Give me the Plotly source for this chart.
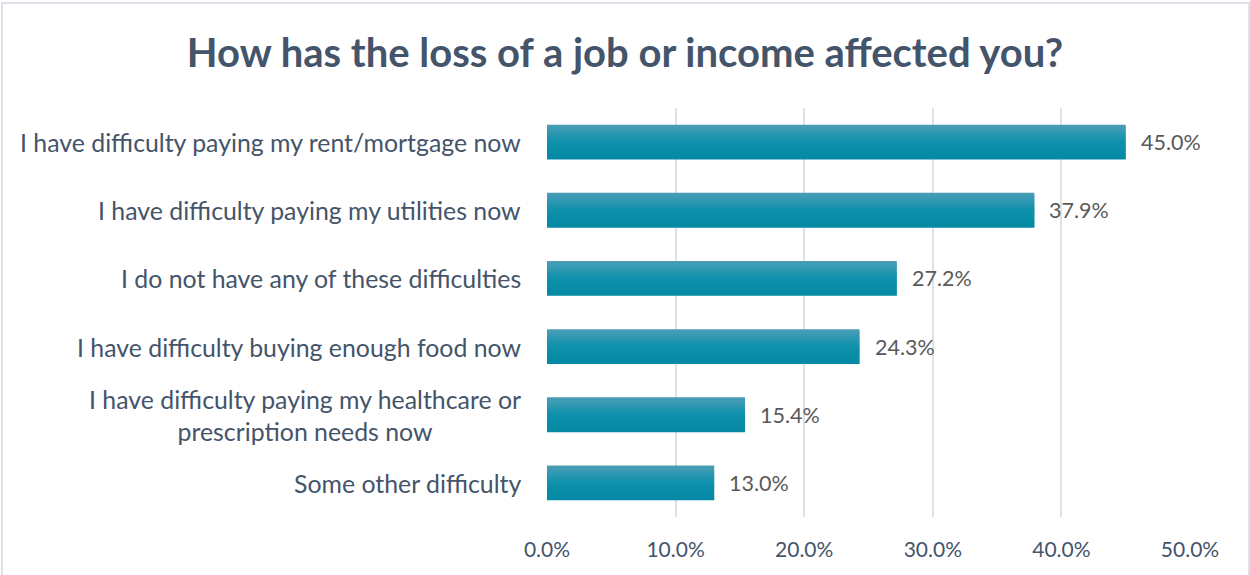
import plotly.graph_objects as go

# Survey responses: share of respondents reporting each difficulty
categories = [
    "I have difficulty paying my rent/mortgage now",
    "I have difficulty paying my utilities now",
    "I do not have any of these difficulties",
    "I have difficulty buying enough food now",
    "I have difficulty paying my healthcare or<br>prescription needs now",
    "Some other difficulty",
]
shares = [0.450, 0.379, 0.272, 0.243, 0.154, 0.130]
tick_values = [0.0, 0.1, 0.2, 0.3, 0.4, 0.5]
tick_labels = ["0.0%", "10.0%", "20.0%", "30.0%", "40.0%", "50.0%"]

W, H = 1250, 575
L, R, T, B = 547, 60, 108, 58
pw, ph = W - L - R, H - T - B

FONT = "Lato"
SLATE = "#44546A"
GREY = "#595959"

BAR_W = 0.51
N_BANDS = 16
STOPS = [(0.0, (0x4C, 0x9E, 0xB6)), (0.5, (0x0D, 0x91, 0xAC)), (1.0, (0x06, 0x88, 0xA3))]


def shade(t):
    """Vertical gradient colour at fraction t (0 = top edge of bar)."""
    for (t0, c0), (t1, c1) in zip(STOPS, STOPS[1:]):
        if t <= t1:
            f = (t - t0) / (t1 - t0)
            return "rgb(%d,%d,%d)" % tuple(round(a + (b - a) * f) for a, b in zip(c0, c1))
    return "rgb(%d,%d,%d)" % STOPS[-1][1]


fig = go.Figure()
band = BAR_W / N_BANDS
for i in range(N_BANDS):
    fig.add_trace(go.Bar(
        y=categories, x=shares, orientation="h",
        width=band * (1.6 if i < N_BANDS - 1 else 1.0),
        offset=-BAR_W / 2 + i * band,
        marker=dict(color=shade((i + 0.5) / N_BANDS), line=dict(width=0)),
        hoverinfo="skip",
    ))

annotations = []
# value labels to the right of each bar
for c, v in zip(categories, shares):
    annotations.append(dict(
        x=v, y=c, xref="x", yref="y", text=f"{v*100:.1f}%",
        xanchor="left", yanchor="middle", xshift=13, showarrow=False,
        font=dict(family=FONT, size=21.5, color=GREY),
    ))
# category labels, centred line by line
for c in categories:
    annotations.append(dict(
        x=0, y=c, xref="paper", yref="y", text=c,
        xanchor="right", yanchor="middle", xshift=-24, showarrow=False,
        align="center",
        font=dict(family=FONT, size=24.85, color=SLATE),
    ))

# outer chart frame
x0 = (2 - L) / pw
x1 = (1249 - L) / pw
y1 = (T + ph - 3) / ph
y0 = (T + ph - 590) / ph

fig.update_layout(
    width=W, height=H,
    margin=dict(l=L, r=R, t=T, b=B, pad=0),
    paper_bgcolor="white", plot_bgcolor="white",
    showlegend=False, barmode="overlay",
    title=dict(
        text="<b>How has the loss of a job or income affected you?</b>",
        x=0.5, xanchor="center", y=1 - 53 / H, yanchor="middle",
        font=dict(family=FONT, size=40, color=SLATE),
    ),
    xaxis=dict(
        range=[0, 0.5], tickvals=tick_values, ticktext=tick_labels,
        showgrid=True, gridcolor="#DDE1E8", gridwidth=2,
        zeroline=False, showline=False, ticks="",
        ticklabelstandoff=18,
        tickfont=dict(family=FONT, size=21, color=SLATE),
        fixedrange=True,
    ),
    yaxis=dict(
        categoryorder="array", categoryarray=categories,
        autorange="reversed", showticklabels=False,
        showgrid=False, zeroline=False, showline=False, ticks="",
        fixedrange=True,
    ),
    annotations=annotations,
    shapes=[dict(
        type="rect", xref="paper", yref="paper",
        x0=x0, x1=x1, y0=y0, y1=y1,
        line=dict(color="#DDE1E8", width=2), layer="below",
    )],
)

fig.write_html("out.html")
